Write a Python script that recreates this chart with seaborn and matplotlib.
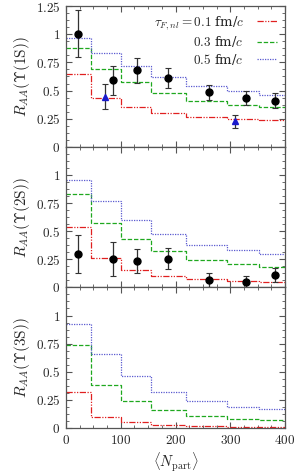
import numpy as np
import pandas as pd
import matplotlib
matplotlib.use('Agg')
import matplotlib.pyplot as plt
from matplotlib.ticker import MultipleLocator, FuncFormatter
import seaborn as sns

# centrality bin edges in <Npart>
edges = [0, 46, 101, 155, 219, 294, 353, 400]

# model curves, one value per bin
ups1_01 = [0.65, 0.435, 0.354, 0.30, 0.264, 0.246, 0.234]
ups1_03 = [0.878, 0.695, 0.575, 0.48, 0.41, 0.375, 0.354]
ups1_05 = [0.968, 0.836, 0.716, 0.62, 0.543, 0.495, 0.462]

ups2_01 = [0.54, 0.26, 0.156, 0.103, 0.074, 0.056, 0.044]
ups2_03 = [0.83, 0.57, 0.427, 0.324, 0.244, 0.206, 0.182]
ups2_05 = [0.956, 0.765, 0.60, 0.476, 0.38, 0.33, 0.294]

ups3_01 = [0.318, 0.098, 0.05, 0.027, 0.018, 0.012, 0.006]
ups3_03 = [0.735, 0.38, 0.241, 0.158, 0.107, 0.083, 0.068]
ups3_05 = [0.923, 0.655, 0.458, 0.324, 0.238, 0.19, 0.17]

# data points
npart = [22, 86, 130, 187, 261, 329, 381]
raa1 = [1.0, 0.59, 0.68, 0.615, 0.485, 0.435, 0.41]
err1_lo = [0.205, 0.13, 0.11, 0.095, 0.065, 0.065, 0.065]
err1_hi = [0.22, 0.13, 0.11, 0.085, 0.06, 0.06, 0.065]
raa2 = [0.30, 0.25, 0.235, 0.256, 0.065, 0.044, 0.11]
err2 = [0.17, 0.15, 0.105, 0.095, 0.06, 0.06, 0.065]

npart_b = [72, 308]
raa1_b = [0.445, 0.225]
err1_b = [0.11, 0.06]

sns.set_theme(style='ticks')
plt.rcParams['font.family'] = ['DejaVu Serif']
plt.rcParams['mathtext.fontset'] = 'cm'

colors = ['#e02020', '#1fa81f', '#5a5ad0']
dashes = [(0, (5, 1.2, 1, 1.2, 1, 1.2)), (0, (3.5, 1.5)), (0, (1, 1))]
labels = [r'$\tau_{F,nl}=0.1$ fm/$c$', r'$0.3$ fm/$c$', r'$0.5$ fm/$c$']

fig, axes = plt.subplots(3, 1, figsize=(2.95, 4.74), dpi=100, sharex=True)
fig.subplots_adjust(left=0.224, right=0.966, top=0.987, bottom=0.097, hspace=0)

curves = [[ups1_01, ups1_03, ups1_05],
          [ups2_01, ups2_03, ups2_05],
          [ups3_01, ups3_03, ups3_05]]
names = ['1S', '2S', '3S']

fmt = FuncFormatter(lambda v, p: r'$%g$' % v)

for i, ax in enumerate(axes):
    for j, vals in enumerate(curves[i]):
        df = pd.DataFrame({'x': edges, 'y': list(vals) + [vals[-1]]})
        sns.lineplot(data=df, x='x', y='y', ax=ax, drawstyle='steps-post',
                     color=colors[j], linestyle=dashes[j], lw=0.9,
                     label=labels[j] if i == 0 else None)
    ax.set_xlim(0, 400)
    ax.set_ylim(0, 1.25)
    if i == 0:
        ax.set_yticks([0, 0.25, 0.5, 0.75, 1, 1.25])
    else:
        ax.set_yticks([0, 0.25, 0.5, 0.75, 1])
    ax.yaxis.set_minor_locator(MultipleLocator(0.0625))
    ax.xaxis.set_major_locator(MultipleLocator(100))
    ax.xaxis.set_minor_locator(MultipleLocator(25))
    ax.yaxis.set_major_formatter(fmt)
    ax.xaxis.set_major_formatter(fmt)
    ax.tick_params(which='both', direction='in', top=True, right=True,
                   color='#555555', labelsize=9.5, pad=4)
    ax.tick_params(which='major', length=4.5, width=0.8)
    ax.tick_params(which='minor', length=2.5, width=0.6)
    for s in ax.spines.values():
        s.set_color('#555555')
        s.set_linewidth(0.9)
    ax.set_ylabel(r'$R_{AA}(\Upsilon(%s\mathrm{%s}))$' % (names[i][0], names[i][1]),
                  fontsize=11, labelpad=3)
    ax.set_xlabel('')

ax = axes[0]
ax.errorbar(npart, raa1, yerr=[err1_lo, err1_hi], fmt='o', color='black',
            ms=5, lw=0.9, capsize=2, capthick=0.8, ecolor='#333333', zorder=5)
ax.errorbar(npart_b, raa1_b, yerr=err1_b, fmt='^', color='#1a1acc',
            ms=4, lw=0.9, capsize=2, capthick=0.8, ecolor='#333333', zorder=5)
ax.legend(loc='upper right', frameon=False, fontsize=9.5, markerfirst=False,
          handlelength=1.5, handletextpad=1.0, labelspacing=0.2,
          borderaxespad=0.2)

axes[1].errorbar(npart, raa2, yerr=err2, fmt='o', color='black',
                 ms=5, lw=0.9, capsize=2, capthick=0.8, ecolor='#333333', zorder=5)

axes[2].set_xlabel(r'$\langle N_{\mathrm{part}}\rangle$', fontsize=10.5, labelpad=3)

fig.savefig('out.png', dpi=100)
